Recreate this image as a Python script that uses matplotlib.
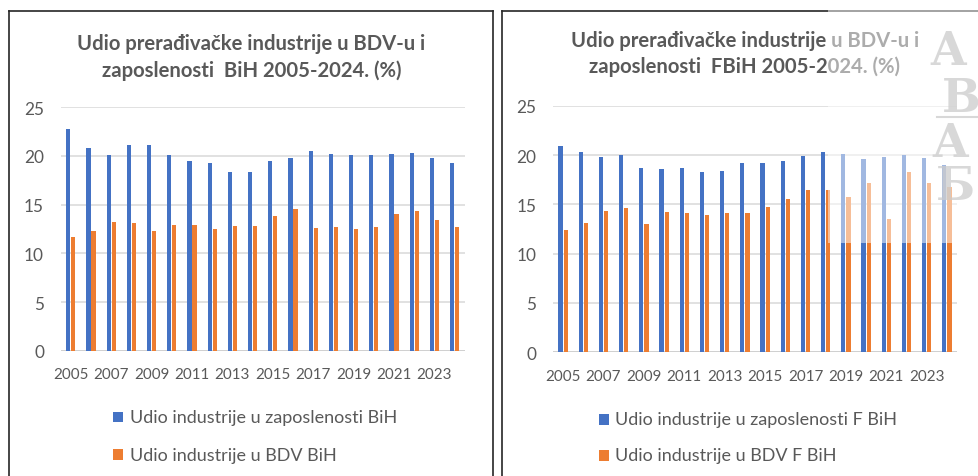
import matplotlib
matplotlib.use("Agg")
import matplotlib.pyplot as plt
from matplotlib.patches import Rectangle
from matplotlib.lines import Line2D
import numpy as np

# ---------------- data ----------------
years = list(range(2005, 2025))
year_labels = [str(y) for y in years[::2]]
yticks = [0, 5, 10, 15, 20, 25]

bih_emp = [22.8, 20.8, 20.1, 21.1, 21.1, 20.1, 19.5, 19.3, 18.4, 18.4,
           19.5, 19.8, 20.5, 20.25, 20.1, 20.1, 20.2, 20.35, 19.8, 19.3]
bih_gva = [11.7, 12.3, 13.2, 13.1, 12.3, 12.9, 12.9, 12.5, 12.8, 12.8,
           13.8, 14.6, 12.6, 12.7, 12.5, 12.7, 14.0, 14.4, 13.4, 12.7]
fbih_emp = [20.95, 20.3, 19.8, 20.0, 18.7, 18.6, 18.7, 18.25, 18.4, 19.2,
            19.2, 19.4, 19.9, 20.3, 20.1, 19.6, 19.8, 20.0, 19.7, 19.0]
fbih_gva = [12.4, 13.1, 14.3, 14.6, 13.0, 14.2, 14.1, 13.95, 14.1, 14.1,
            14.7, 15.5, 16.45, 16.45, 15.7, 17.2, 13.5, 18.3, 17.2, 16.8]

titles_bih = ["Udio prerađivačke industrije u BDV-u i", "zaposlenosti  BiH 2005-2024. (%)"]
titles_fbih = ["Udio prerađivačke industrije u BDV-u i", "zaposlenosti  FBiH 2005-2024. (%)"]
legend_bih = ["Udio industrije u zaposlenosti BiH", "Udio industrije u BDV BiH"]
legend_fbih = ["Udio industrije u zaposlenosti F BiH", "Udio industrije u BDV F BiH"]
watermark_letters = ["A", "B", "A", "Б"]

BLUE = "#4472C4"
ORANGE = "#ED7D31"
TXT = "#595959"
GRID = "#d9d9d9"
FAM = ["Lato", "DejaVu Sans"]

W, H = 979, 477
fig = plt.figure(figsize=(W / 100, H / 100), dpi=100)
fig.patch.set_facecolor("white")
renderer = fig.canvas.get_renderer()


def fx(x):
    return x / W


def fy(y):
    return (H - y) / H


def fit_size(s, target_px, weight="normal", base=12.0):
    t = fig.text(0, 0, s, fontsize=base, family=FAM, weight=weight)
    w = t.get_window_extent(renderer).width
    t.remove()
    return base * target_px / w


title_fs = fit_size(titles_bih[0], 347, weight="bold")
legend_fs = fit_size(legend_bih[0], 267)
xtick_fs = fit_size("2005", 35)
ytick_fs = fit_size("25", 20)

panels = [
    dict(x0=60.7, x1=464.7, ytop=108.3, ybot=351.7, emp=bih_emp, gva=bih_gva,
         titles=titles_bih, tcx=251.5, tbase=(50.0, 76.7), leg=legend_bih,
         sqx=113.0, txx=130.0, lbase=(423.3, 460.7)),
    dict(x0=553.0, x1=957.0, ytop=106.7, ybot=353.3, emp=fbih_emp, gva=fbih_gva,
         titles=titles_fbih, tcx=745.0, tbase=(46.7, 73.3), leg=legend_fbih,
         sqx=598.5, txx=615.0, lbase=(425.5, 461.5)),
]

x = np.arange(len(years))
bw = 0.21
off = 0.126

for p in panels:
    ax = fig.add_axes([fx(p["x0"]), fy(p["ybot"]), fx(p["x1"] - p["x0"]),
                       (p["ybot"] - p["ytop"]) / H])
    ax.bar(x - off, p["emp"], width=bw, color=BLUE, zorder=3)
    ax.bar(x + off, p["gva"], width=bw, color=ORANGE, zorder=3)
    ax.set_xlim(-0.5, len(years) - 0.5)
    ax.set_ylim(0, 25)
    ax.set_yticks(yticks)
    ax.set_yticklabels([str(v) for v in yticks], fontsize=ytick_fs, color=TXT,
                       family=FAM)
    ax.set_xticks(x[::2])
    ax.set_xticklabels(year_labels, fontsize=xtick_fs, color=TXT, family=FAM)
    ax.tick_params(axis="both", length=0)
    ax.tick_params(axis="x", pad=12.0)
    ax.tick_params(axis="y", pad=12.0)
    ax.grid(axis="y", color=GRID, linewidth=1.1, zorder=0)
    ax.axhline(0, color="#cfcfcf", linewidth=1.3, zorder=2)
    for sp in ax.spines.values():
        sp.set_visible(False)
    ax.set_facecolor("none")

    # titles
    for s, yb in zip(p["titles"], p["tbase"]):
        fig.text(fx(p["tcx"]), fy(yb), s, ha="center", va="baseline",
                 fontsize=title_fs, weight="bold", color=TXT, family=FAM)

    # legend
    for s, yb, col in zip(p["leg"], p["lbase"], [BLUE, ORANGE]):
        fig.patches.append(Rectangle((fx(p["sqx"]), fy(yb)), fx(10.5), 10.5 / H,
                                     transform=fig.transFigure, facecolor=col,
                                     edgecolor="none"))
        fig.text(fx(p["txx"]), fy(yb), s, ha="left", va="baseline",
                 fontsize=legend_fs, color=TXT, family=FAM)

# panel borders
bc = "#262626"
blw = 1.2
for xs, ys in [([9, 9], [477, 12]), ([9, 493], [12, 12]), ([493, 493], [12, 477]),
               ([502, 502], [477, 12]), ([502, 979], [12, 12])]:
    fig.lines.append(Line2D([fx(v) for v in xs], [fy(v) for v in ys],
                            transform=fig.transFigure, color=bc, linewidth=blw,
                            zorder=5))

# watermark overlay (faded region with emblem letters)
fig.patches.append(Rectangle((fx(828), fy(244)), fx(W - 828), 244 / H,
                             transform=fig.transFigure, facecolor="white",
                             alpha=0.5, edgecolor="none", zorder=10))
wm = dict(family="DejaVu Serif", weight="bold", color="#cccccc", alpha=0.75,
          fontsize=33, va="baseline", ha="left", zorder=11)
for s, (px, py) in zip(watermark_letters, [(930, 65), (942, 112), (932, 157), (936, 200)]):
    fig.text(fx(px), fy(py), s, **wm)
fig.lines.append(Line2D([fx(937), fx(979)], [fy(118), fy(118)],
                        transform=fig.transFigure, color="#cccccc",
                        linewidth=1.5, alpha=0.75, zorder=11))

fig.savefig("out.png", dpi=100)
